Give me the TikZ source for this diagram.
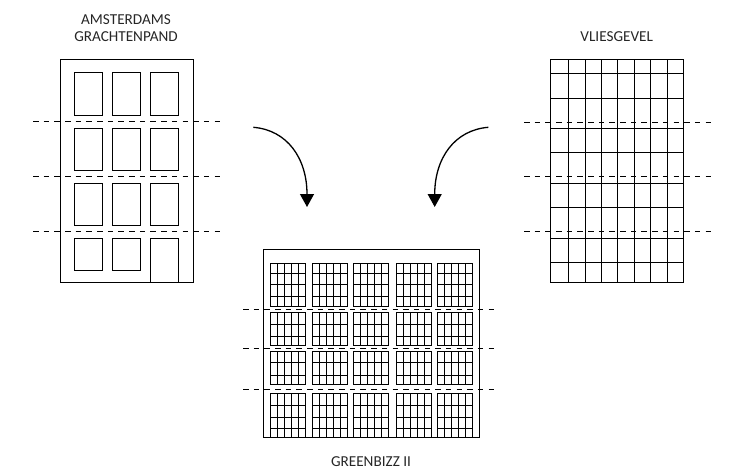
\documentclass[tikz,border=0pt]{standalone}
\usepackage{fontspec}
\setmainfont{Carlito}
\usepackage{tikz}
\usetikzlibrary{arrows.meta}

\begin{document}
\begin{tikzpicture}[x=1pt, y=-1pt,
    facade/.style={rectangle, draw=black, line width=0.8pt, inner sep=0pt},
    title/.style={font=\fontsize{15.2}{17.7}\selectfont, align=center, text=black!85, inner sep=0pt},
    section/.style={black, line width=0.7pt, dash pattern=on 5.5pt off 5.18pt},
    part/.style={black, line width=0.8pt},
    flow/.style={-{Triangle[length=13pt, width=14pt]}, black, line width=1.3pt}
]
    \useasboundingbox (0,0) rectangle (751,468);

    % Left: canal house
    \node[facade, minimum width=133pt, minimum height=223pt] (pand) at (126.5,170.5) {};
    \node[title] (pandtext) at (126,28) {AMSTERDAMS\\GRACHTENPAND};
    \foreach \x in {74,112.3,150} {
        \foreach \t/\b in {72.7/115,128/170,183.5/225} {
            \draw[part] (\x,\t) rectangle (\x+28.4,\b);
        }
    }
    \draw[part] (74,238) rectangle (102.4,270);
    \draw[part] (112.3,238) rectangle (140.7,270);
    % door
    \draw[part] (150,282) -- (150,238) -- (178.4,238) -- (178.4,282);
    \foreach \y in {121.5,176.5,231} {
        \draw[section] (33,\y) -- (220,\y);
    }

    % Right: curtain wall
    \node[facade, minimum width=133pt, minimum height=223.4pt] (gevel) at (617.2,171) {};
    \node[title] (geveltext) at (616.7,37) {VLIESGEVEL};
    \foreach \x in {568.3,585.7,601.7,617.7,634,650.3,667} {
        \draw[part] (\x,59.3) -- (\x,282.7);
    }
    \foreach \y in {73.7,98.3,128.7,152.7,183.3,207.7,238.3,262.3} {
        \draw[part] (550.7,\y) -- (683.7,\y);
    }
    \foreach \y in {122,176.7,231.7} {
        \draw[section] (524,\y) -- (711,\y);
    }

    % Bottom: combined facade
    \node[facade, minimum width=215.7pt, minimum height=188.7pt] (bizz) at (371.2,343.4) {};
    \node[title] (bizztext) at (371,461.5) {GREENBIZZ II};
    \foreach \x in {270.4,312,353.7,396,437.7} {
        \foreach \t/\b/\rows in {263.3/306/{273.3,284.3,296.7},
                                 312.3/345/{324.7,336.3},
                                 351.7/384.3/{362.7,375},
                                 393.3/437.7/{405.7,417.3,428.3}} {
            \draw[part] (\x,\t) rectangle (\x+35,\b);
            \foreach \d in {7,14,21,28} {
                \draw[part] (\x+\d,\t) -- (\x+\d,\b);
            }
            \foreach \y in \rows {
                \draw[part] (\x,\y) -- (\x+35,\y);
            }
        }
    }
    \foreach \y in {309,348.3,389} {
        \draw[section] (243,\y) -- (497,\y);
    }

    % Arrows to the bottom facade
    \coordinate (leftstart) at (253.3,127.3);
    \coordinate (lefttip) at (307,207);
    \coordinate (rightstart) at (488.3,127.3);
    \coordinate (righttip) at (434.7,207);
    \draw[flow] (leftstart) .. controls (287,130) and (307,158) .. (lefttip);
    \draw[flow] (rightstart) .. controls (454.7,130) and (434.7,158) .. (righttip);
\end{tikzpicture}
\end{document}
